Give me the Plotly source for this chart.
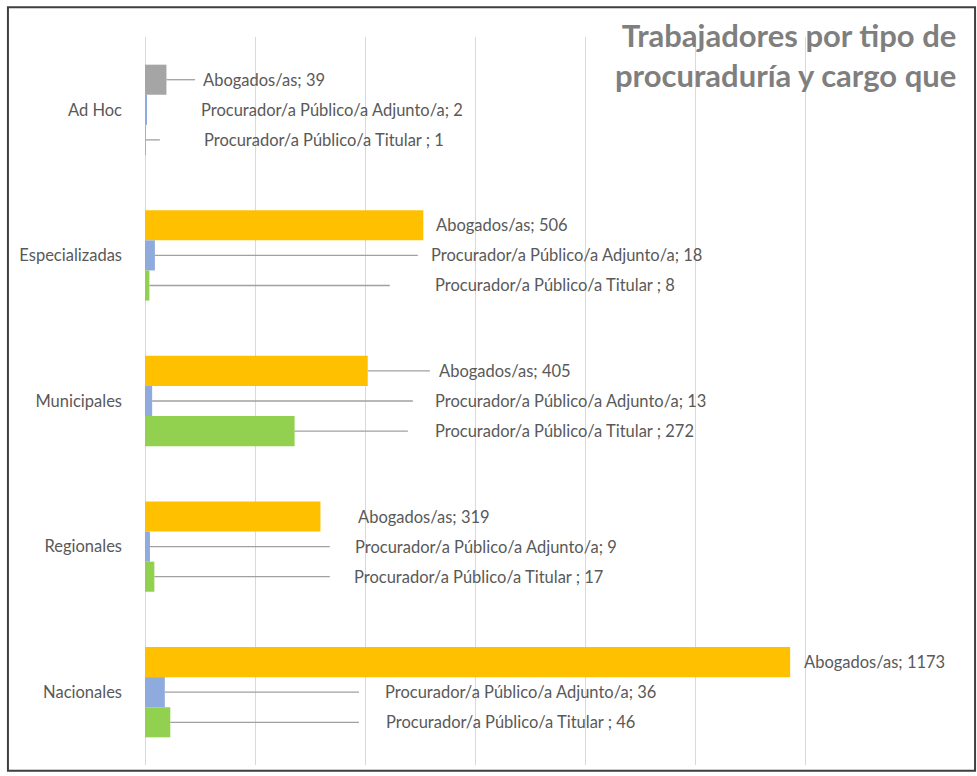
import plotly.graph_objects as go

# ---- data ----
categories = ["Ad Hoc", "Especializadas", "Municipales", "Regionales", "Nacionales"]
series_names = ["Abogados/as", "Procurador/a Público/a Adjunto/a", "Procurador/a Público/a Titular "]
abogados = [39, 506, 405, 319, 1173]
adjunto = [2, 18, 13, 9, 36]
titular = [1, 8, 272, 17, 46]
x_ticks = [0, 200, 400, 600, 800, 1000, 1200, 1400]

# ---- styling / layout constants ----
abogados_colors = ["#A5A5A5", "#FFC000", "#FFC000", "#FFC000", "#FFC000"]
adjunto_color = "#8FAADC"
titular_color = "#92D050"
text_color = "#595959"
font_family = "Lato, 'Open Sans', sans-serif"
bargap = 0.38
bw = (1 - bargap) / 3

# label positions (axis units) and leader-line end points (None = no leader line)
label_x = {
    0: [102, 525, 531, 384, 1195],
    1: [98, 516, 524, 378, 433],
    2: [104, 524, 524, 376, 435],
}
line_end = {
    0: [91, None, 518, None, None],
    1: [None, 496, 487, 336, 389],
    2: [27, 445, 478, 336, 389],
}

series_values = [abogados, adjunto, titular]

fig = go.Figure()
fig.add_trace(go.Bar(y=categories, x=abogados, orientation="h", name=series_names[0],
                     marker=dict(color=abogados_colors, line=dict(width=0))))
fig.add_trace(go.Bar(y=categories, x=adjunto, orientation="h", name=series_names[1],
                     marker=dict(color=adjunto_color, line=dict(width=0))))
fig.add_trace(go.Bar(y=categories, x=titular, orientation="h", name=series_names[2],
                     marker=dict(color=titular_color, line=dict(width=0))))

annotations = []
shapes = []
for s, vals in enumerate(series_values):
    for i, v in enumerate(vals):
        ypos = i + (s - 1) * bw
        annotations.append(dict(
            x=label_x[s][i], y=ypos, xref="x", yref="y",
            text=f"{series_names[s]}; {v}", showarrow=False,
            xanchor="left", yanchor="middle",
            font=dict(size=16.5, color=text_color, family=font_family),
        ))
        if line_end[s][i] is not None:
            shapes.append(dict(
                type="line", xref="x", yref="y",
                x0=v, x1=line_end[s][i], y0=ypos, y1=ypos,
                line=dict(color="#A0A0A0", width=1.3),
            ))

# title (clipped as in reference)
annotations.append(dict(
    x=1.056, y=1.031, xref="paper", yref="paper",
    text="<b>Trabajadores por tipo de</b><br><b>procuraduría y cargo que</b>",
    showarrow=False, xanchor="right", yanchor="top", align="right",
    font=dict(size=31, color="#7F7F7F", family=font_family),
))

# outer frame
shapes.append(dict(type="rect", xref="paper", yref="paper",
                   x0=-0.178, x1=1.078, y0=-0.008, y1=1.041,
                   line=dict(color="#3F3F3F", width=2), fillcolor="rgba(0,0,0,0)", layer="above"))

fig.update_layout(
    width=977, height=776,
    margin=dict(l=145, r=62, t=37, b=11),
    paper_bgcolor="white", plot_bgcolor="white",
    barmode="group", bargap=bargap, bargroupgap=0,
    showlegend=False,
    annotations=annotations, shapes=shapes,
    xaxis=dict(range=[0, 1400], tickvals=x_ticks, showticklabels=False,
               showgrid=True, gridcolor="#D9D9D9", gridwidth=1,
               zeroline=True, zerolinecolor="#D9D9D9", zerolinewidth=1,
               showline=False, fixedrange=True),
    yaxis=dict(range=[4.5, -0.5], showgrid=False, zeroline=False, showline=False,
               ticks="", ticklabelstandoff=22,
               tickfont=dict(size=16.5, color=text_color, family=font_family)),
)

fig.write_html("out.html",
               config={"displayModeBar": False},
               post_script="document.body.style.margin='0';document.body.style.overflow='hidden';")
